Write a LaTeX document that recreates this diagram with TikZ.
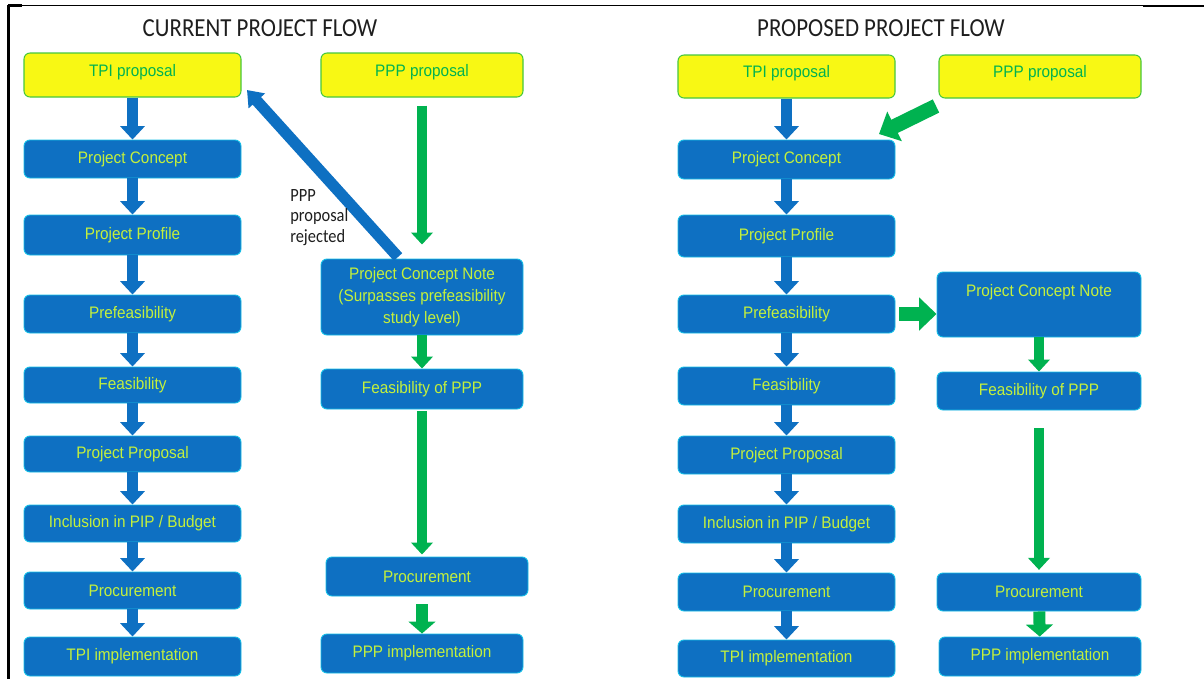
\documentclass[tikz,border=0pt]{standalone}
\usepackage{fontspec}
\setmainfont[FakeStretch=0.92]{Liberation Sans}
\newfontfamily\titlefont[FakeStretch=0.88]{Carlito}
\usetikzlibrary{arrows.meta,calc}

\definecolor{boxblue}{RGB}{14,112,194}
\definecolor{boxedge}{RGB}{20,190,230}
\definecolor{boxtext}{RGB}{196,240,60}
\definecolor{propfill}{RGB}{248,248,20}
\definecolor{propedge}{RGB}{70,200,60}
\definecolor{flowgreen}{RGB}{0,178,80}
\definecolor{titleink}{RGB}{30,30,30}

\tikzset{
  sz/.style 2 args={minimum width=#1*0.75pt, minimum height=#2*0.75pt},
  stage/.style={draw=boxedge, line width=0.7pt, fill=boxblue, rounded corners=4.5pt,
    text=boxtext, font=\fontsize{12.5}{16.5}\selectfont, align=center, inner sep=0pt},
  proposal/.style={draw=propedge, line width=0.8pt, fill=propfill, rounded corners=4.5pt,
    text=flowgreen, font=\fontsize{12.5}{16}\selectfont, align=center, inner sep=0pt},
  heading/.style={font=\titlefont\fontsize{19.5}{22}\selectfont, text=titleink, inner sep=0pt},
  note/.style={font=\titlefont\fontsize{14}{15.4}\selectfont, text=titleink, align=left, inner sep=0pt},
  bluearr/.style={draw=boxblue, line width=8pt, -{Triangle[width=18pt,length=10pt]}},
  backarr/.style={draw=boxblue, line width=8.5pt, -{Triangle[width=16pt,length=11pt]}},
  greenarr/.style={draw=flowgreen, line width=7.5pt, -{Triangle[width=16pt,length=9pt]}},
  midgreen/.style={draw=flowgreen, line width=9pt, -{Triangle[width=20pt,length=9pt]}},
  fatgreen/.style={draw=flowgreen, line width=11pt, -{Triangle[width=24pt,length=13pt]}},
}
% text set higher than the box centre
\newcommand\upper[2]{\raisebox{#1}{#2}}

\begin{document}
\begin{tikzpicture}[x=0.75pt, y=-0.75pt]
\useasboundingbox (0,0) rectangle (1204,679);

% frame
\draw[line width=0.9pt] (8,5.5) -- (1204,5.5);
\draw[line width=1.6pt] (8,5.5) -- (22,5.5);
\draw[line width=1.8pt] (1143,6) -- (1204,6);
\draw[line width=1.6pt] (8.5,4.8) -- (8.5,679);

% headings
\node[heading] (tL) at (260,28) {CURRENT PROJECT FLOW};
\node[heading] (tR) at (881,28) {PROPOSED PROJECT FLOW};

% ---------- current flow ----------
\node[proposal, sz={217}{44}] (tpiL) at (132.5,75) {\upper{7pt}{TPI proposal}};
\node[proposal, sz={202}{44}] (pppL) at (422,75) {\upper{7pt}{PPP proposal}};
\node[stage, sz={217}{38}] (pcL)  at (132.5,159) {Project Concept};
\node[stage, sz={217}{40}] (ppL)  at (132.5,235) {Project Profile};
\node[stage, sz={217}{38}] (pfL)  at (132.5,314) {Prefeasibility};
\node[stage, sz={217}{36}] (fsL)  at (132.5,385) {Feasibility};
\node[stage, sz={217}{36}] (prL)  at (132.5,454) {Project Proposal};
\node[stage, sz={217}{37}] (inL)  at (132.5,523.5) {Inclusion in PIP / Budget};
\node[stage, sz={217}{37}] (pcmL) at (132.5,590.5) {Procurement};
\node[stage, sz={217}{39}] (impL) at (132.5,656.5) {TPI implementation};

\node[stage, sz={202}{76}] (cnL)  at (422,297) {Project Concept Note\\(Surpasses prefeasibility\\study level)};
\node[stage, sz={202}{40}] (fpL)  at (422,389) {Feasibility of PPP};
\node[stage, sz={202}{39}] (pc2L) at (427,576.5) {Procurement};
\node[stage, sz={202}{39}] (pimL) at (422,653.5) {PPP implementation};

\draw[bluearr] (tpiL) -- (pcL);
\draw[bluearr] (pcL) -- (ppL);
\draw[bluearr] (ppL) -- (pfL);
\draw[bluearr] (pfL) -- (fsL);
\draw[bluearr] (fsL) -- (prL);
\draw[bluearr] (prL) -- (inL);
\draw[bluearr] (inL) -- (pcmL);
\draw[bluearr] (pcmL) -- (impL);

\draw[greenarr, shorten <=6pt, shorten >=10.5pt] (pppL) -- (cnL);
\draw[greenarr] (cnL) -- (fpL);
\draw[greenarr, shorten <=1.5pt, shorten >=1.5pt] (fpL.south) -- (fpL.south |- pc2L.north);
\draw[midgreen, shorten <=6pt] (pimL.north |- pc2L.south) -- (pimL.north);

\coordinate (rjS) at (398,257);
\coordinate (rjE) at (247,90);
\draw[backarr] (rjS) -- (rjE);
\node[note, anchor=north west] (rjL) at (290,189) {PPP\\proposal\\rejected};

% ---------- proposed flow ----------
\node[proposal, sz={217}{43}] (tpiR) at (786.5,76.5) {\upper{7pt}{TPI proposal}};
\node[proposal, sz={202}{43}] (pppR) at (1040,76.5) {\upper{7pt}{PPP proposal}};
\node[stage, sz={217}{39}] (pcR)  at (786.5,159.5) {Project Concept};
\node[stage, sz={217}{42}] (ppR)  at (786.5,236) {Project Profile};
\node[stage, sz={217}{38}] (pfR)  at (786.5,314) {Prefeasibility};
\node[stage, sz={217}{38}] (fsR)  at (786.5,386) {Feasibility};
\node[stage, sz={217}{38}] (prR)  at (786.5,455) {Project Proposal};
\node[stage, sz={217}{38}] (inR)  at (786.5,524) {Inclusion in PIP / Budget};
\node[stage, sz={217}{38}] (pcmR) at (786.5,592) {Procurement};
\node[stage, sz={217}{37}] (impR) at (786.5,658.5) {TPI implementation};

\node[stage, sz={204}{65}] (cnR)  at (1039,304.5) {\upper{21.5pt}{Project Concept Note}};
\node[stage, sz={204}{38}] (fpR)  at (1039,391) {Feasibility of PPP};
\node[stage, sz={204}{38}] (pc2R) at (1039,592) {Procurement};
\node[stage, sz={202}{39}] (pimR) at (1040,656.5) {PPP implementation};

\draw[bluearr] (tpiR) -- (pcR);
\draw[bluearr] (pcR) -- (ppR);
\draw[bluearr] (ppR) -- (pfR);
\draw[bluearr] (pfR) -- (fsR);
\draw[bluearr] (fsR) -- (prR);
\draw[bluearr] (prR) -- (inR);
\draw[bluearr] (inR) -- (pcmR);
\draw[bluearr] (pcmR) -- (impR);

\coordinate (dgS) at (936,106);
\coordinate (dgE) at (879,134);
\draw[fatgreen] (dgS) -- (dgE);
\draw[fatgreen, shorten <=3pt] (pfR.east) -- (pfR.east -| cnR.west);
\draw[greenarr] (cnR) -- (fpR);
\draw[greenarr, shorten <=13.5pt, shorten >=2pt] (fpR) -- (pc2R);
\draw[midgreen] (pc2R) -- (pimR);
\end{tikzpicture}
\end{document}
